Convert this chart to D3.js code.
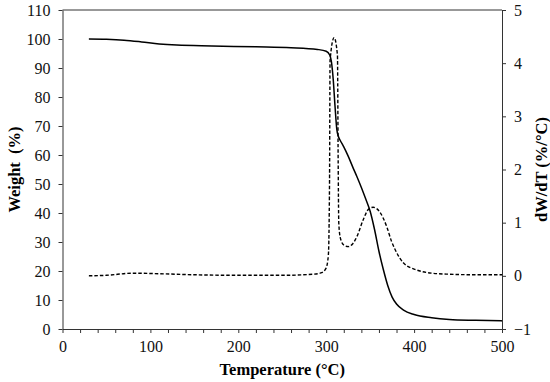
<!DOCTYPE html>
<html>
<head>
<meta charset="utf-8">
<script src="https://cdn.jsdelivr.net/npm/d3@7"></script>
<style>
  body { margin: 0; background: #fff; }
  svg { display: block; font-family: "Liberation Serif", "Times New Roman", serif; }
  .axis path, .axis line { stroke: #333; }
  .axis text { font-size: 16px; fill: #111; font-family: "Liberation Serif", serif; }
</style>
</head>
<body>
<div id="chart"></div>
<script>
// TG curve (weight %, left axis)
const tgTemp   = [30, 50, 70, 90, 110, 130, 170, 220, 260, 290, 300, 304, 306, 308, 310, 312, 314, 316, 320, 325, 330, 335, 340, 345, 350, 355, 360, 365, 370, 375, 380, 388, 400, 420, 440, 470, 500];
const tgWeight = [100, 99.9, 99.6, 99.0, 98.3, 97.9, 97.6, 97.3, 97.0, 96.4, 95.8, 94.5, 92, 86, 77, 69, 66.3, 65, 62.8, 59.6, 56, 52.5, 48.8, 44.8, 40.6, 34.3, 26.8, 20.5, 15, 11, 8.6, 6.5, 5, 3.9, 3.3, 3.0, 2.8];

// DTG curve (dW/dT %/°C, right axis)
const dtgTemp = [30, 50, 80, 110, 150, 200, 250, 285, 295, 300, 302.5, 303.8, 304.4, 309, 312.8, 313.6, 314.3, 316, 320, 325, 330, 335, 342, 348, 353.5, 361, 369, 374.5, 378.5, 388, 403, 420, 441, 470, 500];
const dtgRate = [0.0, 0.01, 0.05, 0.04, 0.02, 0.01, 0.01, 0.03, 0.06, 0.15, 0.4, 1.8, 4.05, 4.48, 4.15, 2.2, 1.0, 0.72, 0.58, 0.55, 0.6, 0.74, 1.05, 1.25, 1.29, 1.2, 0.92, 0.64, 0.49, 0.24, 0.11, 0.05, 0.03, 0.02, 0.02];

const xTicks = d3.range(0, 501, 20);
const leftTicks = d3.range(0, 111, 10);
const rightTicks = d3.range(-1, 6, 1);

const width = 550, height = 382;
const margin = { top: 10, right: 48, bottom: 53, left: 62.5 };

const svg = d3.select("#chart").append("svg")
  .attr("width", width)
  .attr("height", height);

const x = d3.scaleLinear().domain([0, 500]).range([margin.left, width - margin.right]);
const yL = d3.scaleLinear().domain([0, 110]).range([height - margin.bottom, margin.top]);
const yR = d3.scaleLinear().domain([-1, 5]).range([height - margin.bottom, margin.top]);

// top border
svg.append("line")
  .attr("x1", x(0)).attr("x2", x(500))
  .attr("y1", yL(110)).attr("y2", yL(110))
  .attr("stroke", "#333");

svg.append("g")
  .attr("class", "axis")
  .attr("transform", `translate(0,${yL(0)})`)
  .call(d3.axisBottom(x).tickValues(xTicks).tickFormat(d => d % 100 === 0 ? d : "").tickSize(4).tickSizeOuter(0).tickPadding(8));

svg.append("g")
  .attr("class", "axis")
  .attr("transform", `translate(${x(0)},0)`)
  .call(d3.axisLeft(yL).tickValues(leftTicks).tickSize(4).tickSizeOuter(0).tickPadding(8));

svg.append("g")
  .attr("class", "axis")
  .attr("transform", `translate(${x(500)},0)`)
  .call(d3.axisRight(yR).tickValues(rightTicks).tickFormat(d3.format("d")).tickSize(4).tickSizeOuter(0).tickPadding(8));

const tgLine = d3.line()
  .x((d, i) => x(tgTemp[i]))
  .y(d => yL(d))
  .curve(d3.curveMonotoneX);

const dtgLine = d3.line()
  .x((d, i) => x(dtgTemp[i]))
  .y(d => yR(d))
  .curve(d3.curveMonotoneX);

svg.append("path")
  .attr("d", dtgLine(dtgRate))
  .attr("fill", "none")
  .attr("stroke", "#000")
  .attr("stroke-width", 1.4)
  .attr("stroke-dasharray", "3.5,2");

svg.append("path")
  .attr("d", tgLine(tgWeight))
  .attr("fill", "none")
  .attr("stroke", "#000")
  .attr("stroke-width", 1.5);

// axis titles
svg.append("text")
  .attr("transform", `translate(${(x(0) + x(500)) / 2},375)`)
  .attr("text-anchor", "middle")
  .attr("font-weight", "bold")
  .attr("font-size", 16.5)
  .text("Temperature (°C)");

svg.append("text")
  .attr("transform", `translate(20,${(yL(0) + yL(110)) / 2}) rotate(-90)`)
  .attr("text-anchor", "middle")
  .attr("font-weight", "bold")
  .attr("font-size", 16.5)
  .attr("xml:space", "preserve")
  .text("Weight  (%)");

svg.append("text")
  .attr("transform", `translate(547,${(yL(0) + yL(110)) / 2}) rotate(-90)`)
  .attr("text-anchor", "middle")
  .attr("font-weight", "bold")
  .attr("font-size", 16.5)
  .text("dW/dT (%/°C)");
</script>
</body>
</html>
